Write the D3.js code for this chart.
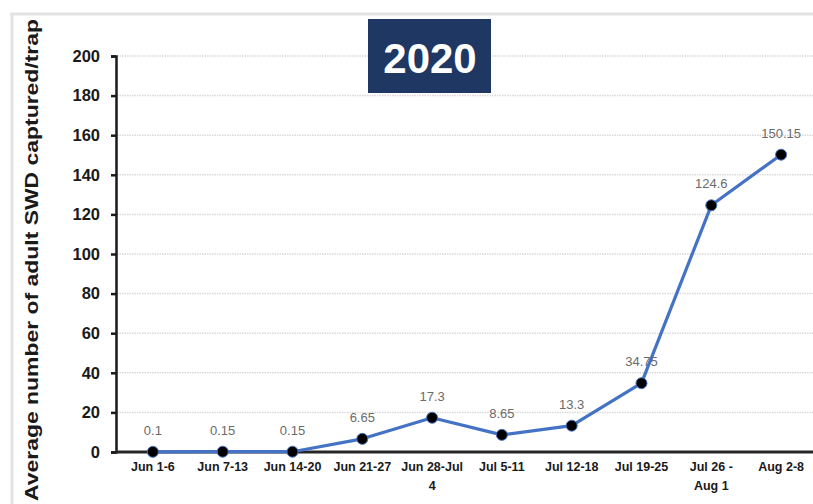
<!DOCTYPE html>
<html><head><meta charset="utf-8">
<script src="https://cdn.jsdelivr.net/npm/d3@7"></script>
<style>html,body{margin:0;padding:0;background:#fff;overflow:hidden}</style>
</head><body>
<svg id="c" width="813" height="504"></svg>
<script>
const categories = ["Jun 1-6","Jun 7-13","Jun 14-20","Jun 21-27","Jun 28-Jul 4","Jul 5-11","Jul 12-18","Jul 19-25","Jul 26 - Aug 1","Aug 2-8"];
const categoryLines = [["Jun 1-6"],["Jun 7-13"],["Jun 14-20"],["Jun 21-27"],["Jun 28-Jul","4"],["Jul 5-11"],["Jul 12-18"],["Jul 19-25"],["Jul 26 -","Aug 1"],["Aug 2-8"]];
const values = [0.1, 0.15, 0.15, 6.65, 17.3, 8.65, 13.3, 34.75, 124.6, 150.15];
const valueLabels = ["0.1","0.15","0.15","6.65","17.3","8.65","13.3","34.75","124.6","150.15"];
const yTicks = [0,20,40,60,80,100,120,140,160,180,200];
const title = "2020";
const yTitle = "Average number of adult SWD captured/trap";

const svg = d3.select("#c");
const font = "'Liberation Sans', Arial, sans-serif";

// outer frame
svg.append("line").attr("x1",10).attr("x2",813).attr("y1",14).attr("y2",14).attr("stroke","#e3e3e3").attr("stroke-width",3);
svg.append("line").attr("x1",12).attr("x2",12).attr("y1",13).attr("y2",504).attr("stroke","#e3e3e3").attr("stroke-width",3);

const x = d3.scaleBand().domain(categories).range([118,816]).padding(0);
const y = d3.scaleLinear().domain([0,200]).range([452,56]);
const xc = d => x(d) + x.bandwidth()/2;

// gridlines
svg.append("g").selectAll("line").data(yTicks.filter(t=>t>0)).join("line")
  .attr("x1",117).attr("x2",813).attr("y1",d=>y(d)).attr("y2",d=>y(d))
  .attr("stroke","#d9d9d9").attr("stroke-width",1.5).attr("stroke-dasharray","1.5,1");

// y axis
const ya = svg.append("g").attr("transform","translate(116,0)")
  .call(d3.axisLeft(y).tickValues(yTicks).tickSize(5).tickPadding(11));
ya.select(".domain").attr("stroke","#1a1a1a").attr("stroke-width",2.5);
ya.selectAll(".tick line").attr("stroke","#1a1a1a").attr("stroke-width",2.5);
ya.selectAll(".tick text").attr("font-family",font).attr("font-weight","bold").attr("font-size",16.5).attr("fill","#1a1a1a");

// x axis
const xa = svg.append("g").attr("transform","translate(0,452)")
  .call(d3.axisBottom(x).tickSize(0).tickFormat(""));
xa.select(".domain").attr("stroke","#262626").attr("stroke-width",3).attr("d","M116,0H813");
xa.selectAll(".tick").each(function(d,i){
  const t = d3.select(this).append("text").attr("font-family",font).attr("font-weight","bold")
    .attr("font-size",12.5).attr("fill","#1a1a1a").attr("text-anchor","middle").attr("y",19);
  categoryLines[i].forEach((ln,j)=>t.append("tspan").attr("x",0).attr("dy",j===0?0:19).text(ln));
});

// line
const line = d3.line().x((d,i)=>xc(categories[i])).y(d=>y(d));
svg.append("path").datum(values).attr("d",line).attr("fill","none")
  .attr("stroke","#4472c4").attr("stroke-width",3.2).attr("stroke-linejoin","round");

svg.append("g").selectAll("circle").data(values).join("circle")
  .attr("cx",(d,i)=>xc(categories[i])).attr("cy",d=>y(d)).attr("r",5.5)
  .attr("fill","#000").attr("stroke","#4472c4").attr("stroke-width",1);

svg.append("g").selectAll("text").data(values).join("text")
  .attr("x",(d,i)=>xc(categories[i])).attr("y",d=>y(d)-17)
  .attr("text-anchor","middle").attr("font-family",font).attr("font-size",13).attr("fill","#6b6b6b")
  .text((d,i)=>valueLabels[i]);

// y title
svg.append("text").attr("transform","translate(38,260) rotate(-90)")
  .attr("text-anchor","middle").attr("font-family",font).attr("font-weight","bold")
  .attr("font-size",18).attr("fill","#1a1a1a")
  .attr("textLength",482).attr("lengthAdjust","spacingAndGlyphs").text(yTitle);

// title box
svg.append("rect").attr("x",368).attr("y",19).attr("width",123).attr("height",74).attr("fill","#1f3763");
svg.append("text").attr("x",430).attr("y",73).attr("text-anchor","middle")
  .attr("font-family",font).attr("font-weight","bold").attr("font-size",42).attr("fill","#fff").text(title);
</script>
</body></html>
